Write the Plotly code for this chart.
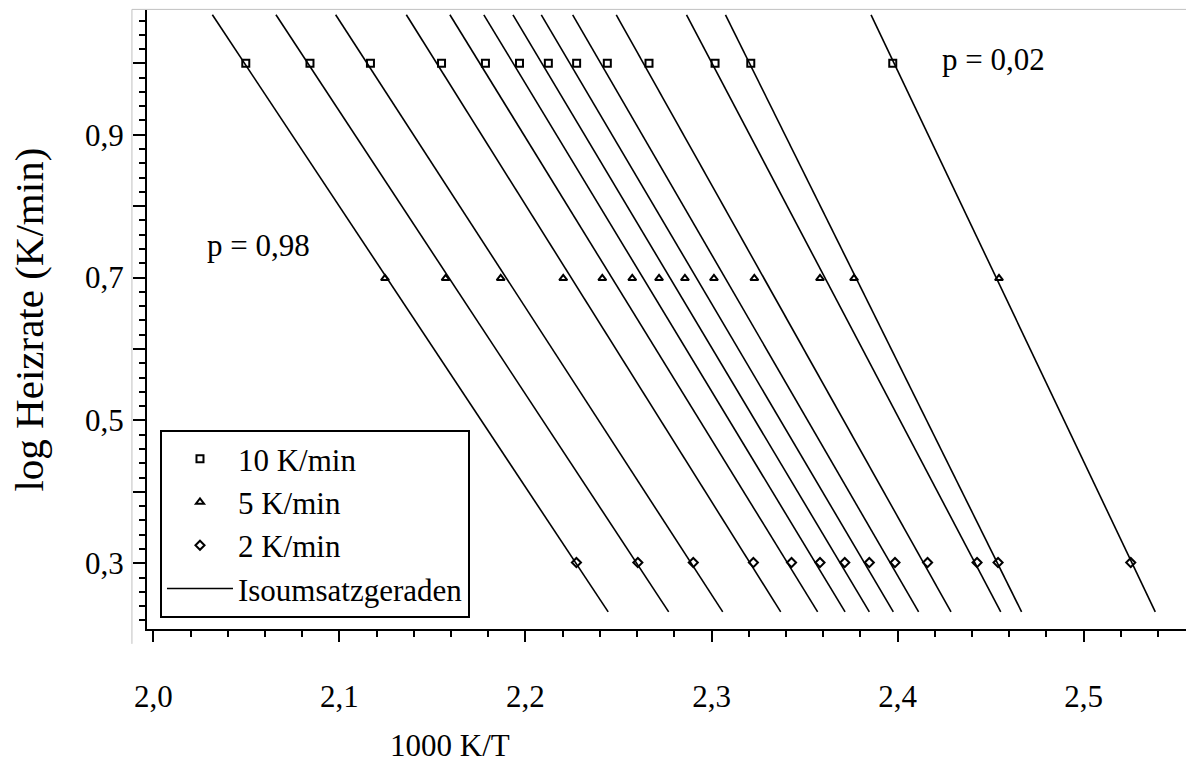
import numpy as np
import plotly.graph_objects as go

# Heating rates (K/min) and their log values
rates = [10, 5, 2]
rate_labels = ["10 K/min", "5 K/min", "2 K/min"]
symbols = ["square-open", "triangle-up-open", "diamond-open"]

# 1000 K/T values for each isoconversion line (p = 0.98 ... 0.02), per heating rate
x_10 = [2.0497, 2.0842, 2.1167, 2.1549, 2.1785, 2.1968, 2.2123, 2.2275, 2.2440, 2.2664, 2.3019, 2.3211, 2.3974]
x_5 = [2.1245, 2.1571, 2.1867, 2.2203, 2.2413, 2.2574, 2.2718, 2.2857, 2.3013, 2.3230, 2.3583, 2.3766, 2.4545]
x_2 = [2.2274, 2.2604, 2.2902, 2.3225, 2.3430, 2.3583, 2.3716, 2.3848, 2.3986, 2.4161, 2.4427, 2.4540, 2.5253]
series_x = [x_10, x_5, x_2]

# y extent of the isoconversion lines
line_y_span = [0.232, 1.068]

x_ticks = [2.0, 2.1, 2.2, 2.3, 2.4, 2.5]
x_ticktext = ["2,0", "2,1", "2,2", "2,3", "2,4", "2,5"]
y_ticks = [0.3, 0.4, 0.5, 0.6, 0.7, 0.8, 0.9, 1.0]
y_ticktext = ["0,3", "", "0,5", "", "0,7", "", "0,9", ""]

FONT = "Liberation Serif, Times New Roman, serif"
FS = 31

fig = go.Figure()

log_rates = [float(np.log10(r)) for r in rates]

# Isoconversion lines (fitted through the three heating-rate points)
ys_line = np.array(line_y_span)
for i in range(len(x_10)):
    xs = np.array([x_10[i], x_5[i], x_2[i]])
    b, a = np.polyfit(np.array(log_rates), xs, 1)
    fig.add_trace(go.Scatter(
        x=a + b * ys_line, y=ys_line, mode="lines",
        line=dict(color="black", width=1.6),
        name="Isoumsatzgeraden", legendgroup="iso",
        showlegend=(i == 0), legendrank=4, hoverinfo="skip"))

for k, (lab, sym, xs) in enumerate(zip(rate_labels, symbols, series_x)):
    fig.add_trace(go.Scatter(
        x=xs, y=[log_rates[k]] * len(xs), mode="markers", name=lab,
        legendrank=k + 1,
        marker=dict(symbol=sym, size=7, color="black",
                    line=dict(color="black", width=2))))

fig.add_annotation(x=2.0563, y=0.745, text="p = 0,98", showarrow=False,
                   font=dict(family=FONT, size=FS, color="black"))
fig.add_annotation(x=2.4518, y=1.006, text="p = 0,02", showarrow=False,
                   font=dict(family=FONT, size=FS, color="black"))
# axis titles
fig.add_annotation(x=0.2916, xref="paper", xanchor="center", y=-0.189, yref="paper", yanchor="middle",
                   text="1000 K/T", showarrow=False,
                   font=dict(family=FONT, size=FS, color="black"))
fig.add_annotation(x=-0.1145, xref="paper", xanchor="center", y=0.5, yref="paper", yanchor="middle",
                   text="log Heizrate (K/min)", textangle=-90, showarrow=False,
                   font=dict(family=FONT, size=41, color="black"))

# light grey outer frame
fig.add_shape(type="line", xref="paper", yref="paper", x0=-0.0145, x1=1.0, y0=1.001, y1=1.001,
              line=dict(color="#c0c0c0", width=1))
fig.add_shape(type="line", xref="paper", yref="paper", x0=-0.0145, x1=-0.0145, y0=1.001, y1=-0.024,
              line=dict(color="#c0c0c0", width=1))

fig.update_layout(
    width=1186, height=763,
    margin=dict(l=147, r=0, t=10, b=134),
    paper_bgcolor="white", plot_bgcolor="white",
    font=dict(family=FONT, size=FS, color="black"),
    separators=", ",
    showlegend=True,
    legend=dict(x=0.0125, y=0.3215, xanchor="left", yanchor="top",
                bgcolor="white", bordercolor="black", borderwidth=2,
                itemwidth=66,
                font=dict(family=FONT, size=FS), traceorder="normal"),
    xaxis=dict(range=[1.99661, 2.555], showgrid=False, zeroline=False,
               showline=True, linecolor="black", linewidth=2,
               ticks="outside", ticklen=11, tickwidth=2, tickcolor="black",
               tickvals=x_ticks, ticktext=x_ticktext, ticklabelstandoff=28,
               minor=dict(dtick=0.02, ticks="outside", ticklen=6, tickwidth=2, tickcolor="black")),
    yaxis=dict(range=[0.208, 1.0747], showgrid=False, zeroline=False,
               showline=True, linecolor="black", linewidth=2,
               ticks="outside", ticklen=12, tickwidth=2, tickcolor="black",
               tickvals=y_ticks, ticktext=y_ticktext, ticklabelstandoff=3,
               minor=dict(dtick=0.02, ticks="outside", ticklen=6, tickwidth=2, tickcolor="black")),
)

fig.write_html("out.html")
